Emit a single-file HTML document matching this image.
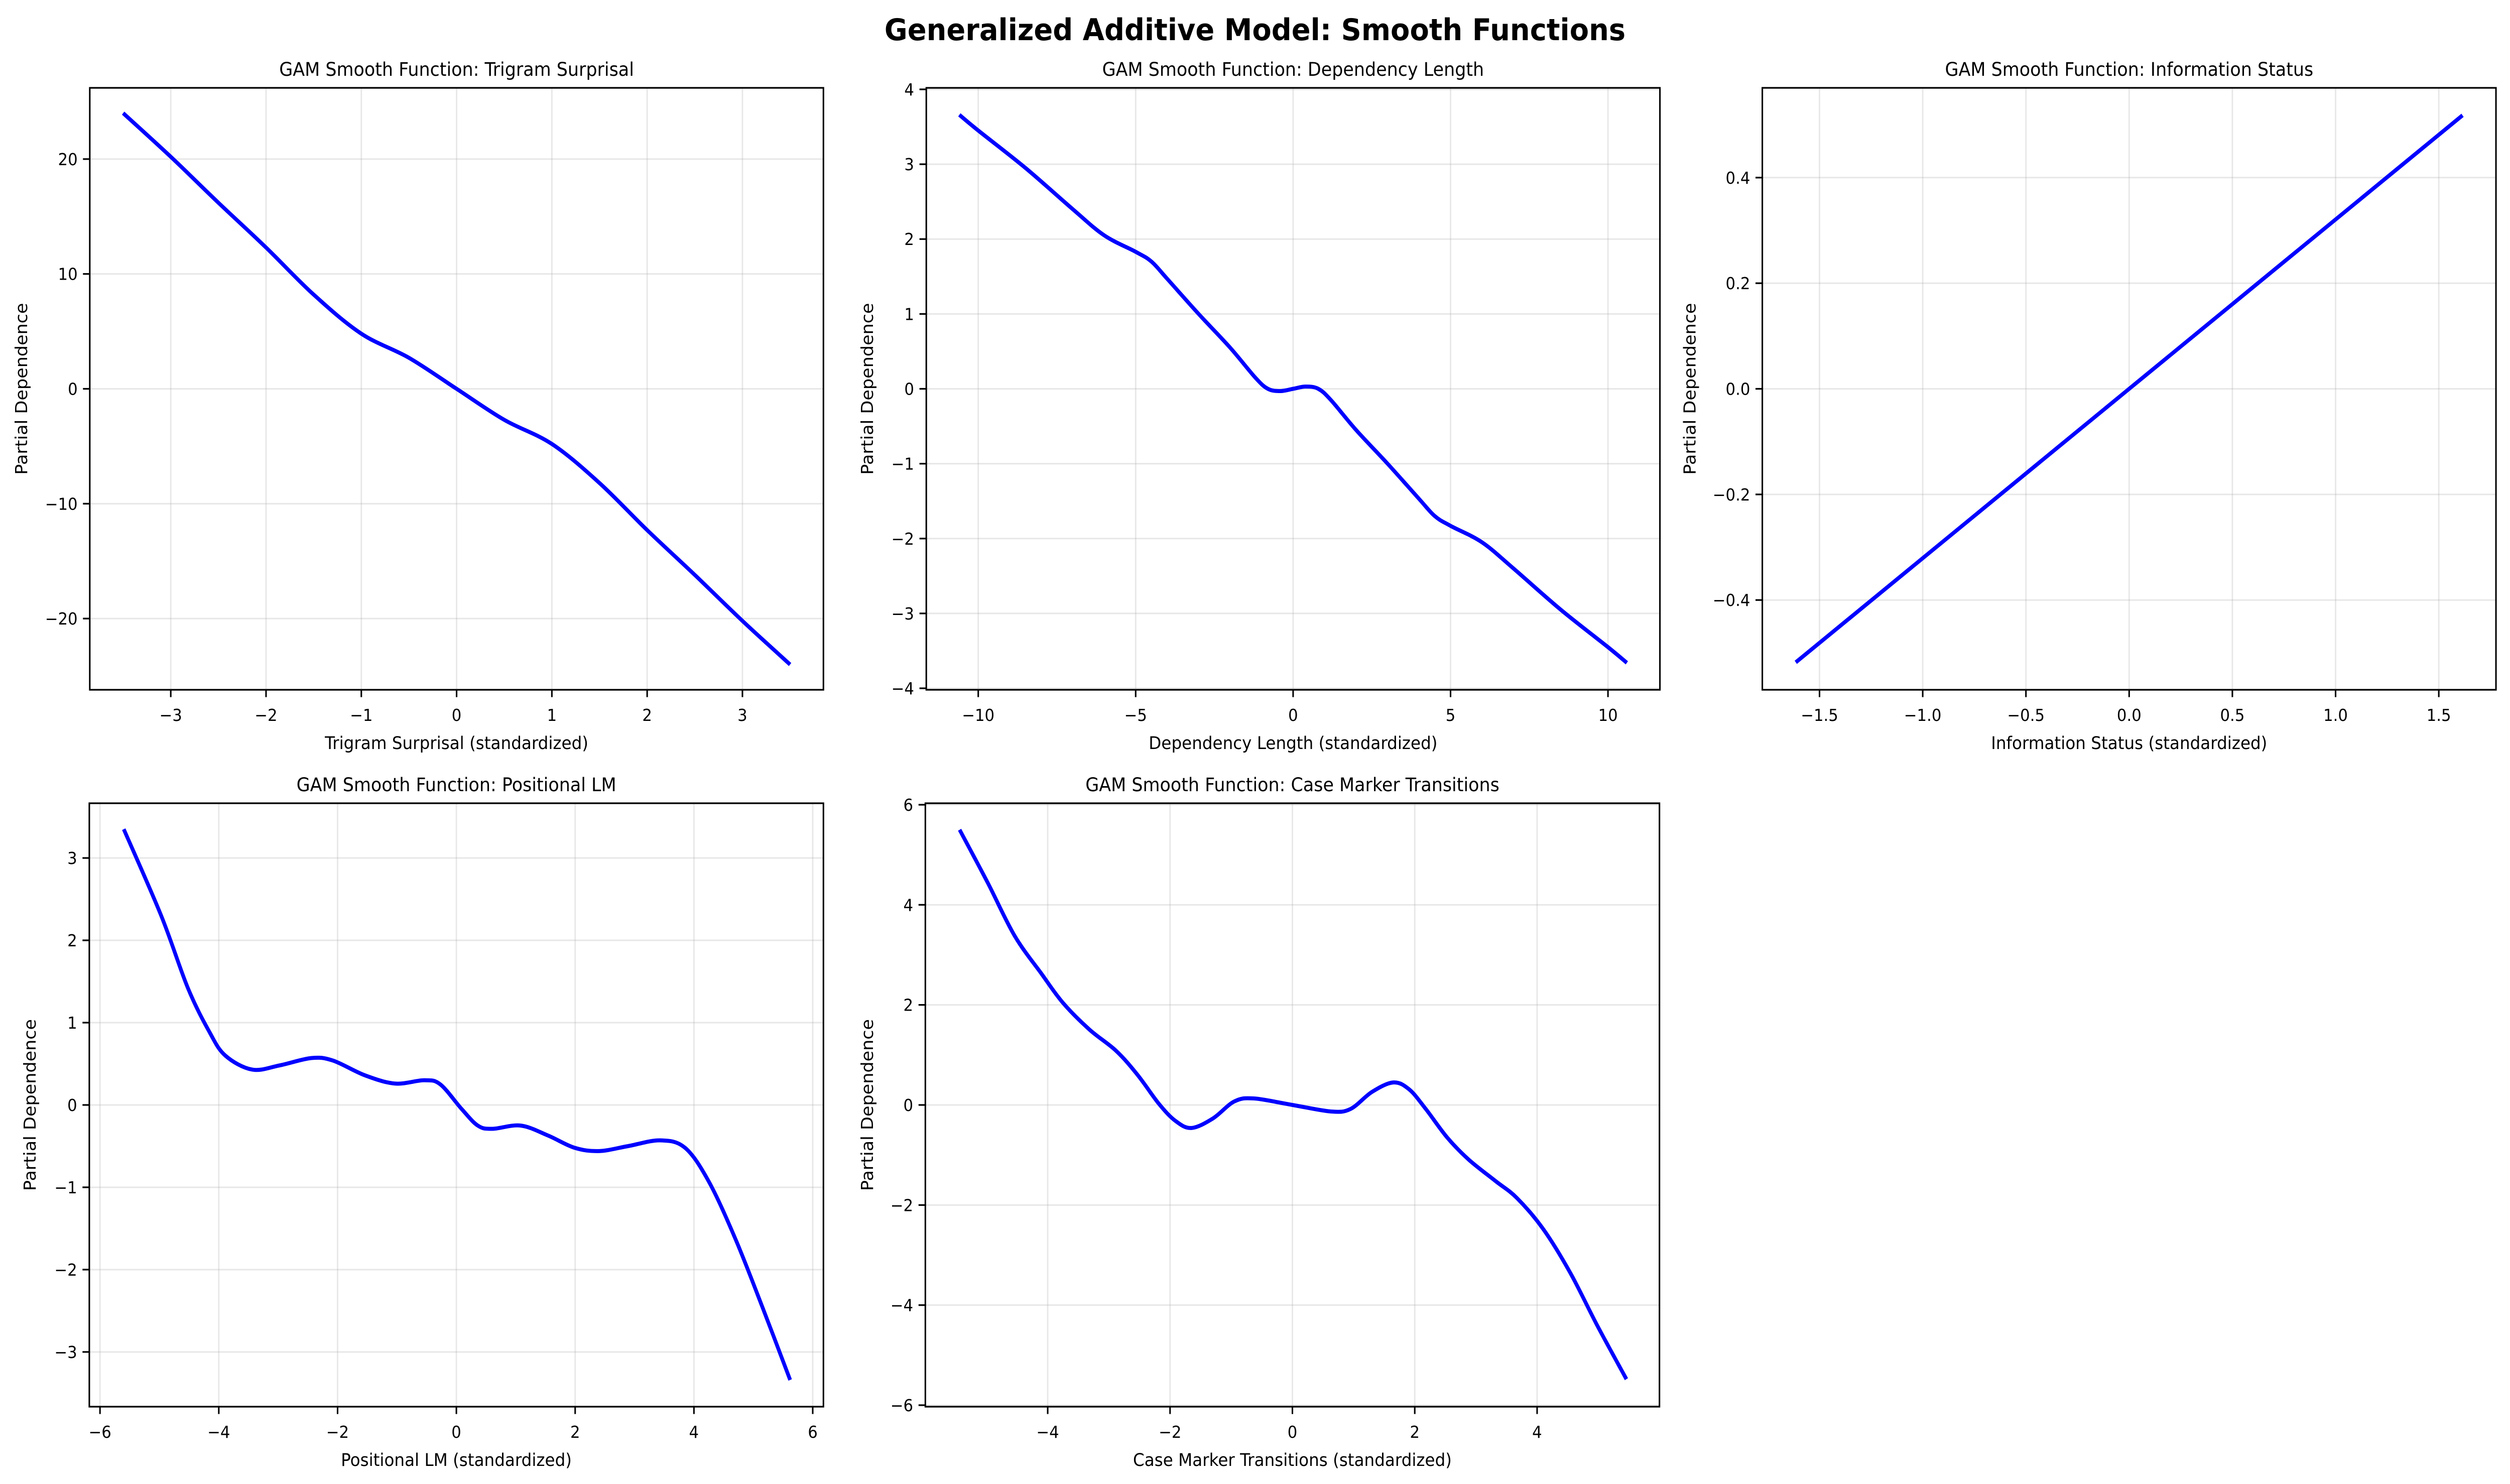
<!DOCTYPE html>
<html><head><meta charset="utf-8"><style>
html,body{margin:0;padding:0;background:#fff;overflow:hidden;width:100%;height:100%;}
svg{display:block;position:absolute;left:0;top:0;width:100vw;height:100vh;font-family:"DejaVu Sans","Liberation Sans",sans-serif;}
</style></head><body>
<svg id="fig" viewBox="0 0 5368 2956" preserveAspectRatio="none" xmlns="http://www.w3.org/2000/svg">
<rect width="5368" height="2956" fill="#fff"/>
<text x="2684" y="80" text-anchor="middle" font-size="60" font-weight="bold">Generalized Additive Model: Smooth Functions</text>
</svg>
<script>
// ---- data ----
const trigramX = [-3.5,-3,-2.5,-2,-1.5,-1,-0.5,0,0.5,1,1.5,2,2.5,3,3.5];
const trigramY = [24,20.2,16.2,12.3,8.2,4.8,2.7,0,-2.7,-4.8,-8.2,-12.3,-16.2,-20.2,-24];
const trigramXTicks = [-3,-2,-1,0,1,2,3];
const trigramYTicks = [-20,-10,0,10,20];

const depX = [-10.6,-10,-8.5,-7,-6,-5,-4.5,-4,-3,-2,-1.2,-0.8,-0.4,0,0.4,0.8,1.2,2,3,4,4.5,5,6,7,8.5,10,10.6];
const depY = [3.66,3.45,2.95,2.4,2.05,1.83,1.7,1.47,1.0,0.55,0.15,0.0,-0.03,0.0,0.03,0.0,-0.15,-0.55,-1.0,-1.47,-1.7,-1.83,-2.05,-2.4,-2.95,-3.45,-3.66];
const depXTicks = [-10,-5,0,5,10];
const depYTicks = [-4,-3,-2,-1,0,1,2,3,4];

const infoX = [-1.615,1.615];
const infoY = [-0.518,0.518];
const infoXTicks = [-1.5,-1.0,-0.5,0.0,0.5,1.0,1.5];
const infoYTicks = [-0.4,-0.2,0.0,0.2,0.4];

const posX = [-5.6,-4.97,-4.52,-4.16,-3.89,-3.44,-2.98,-2.44,-2.08,-1.54,-1.03,-0.54,-0.27,0.09,0.36,0.6,1.08,1.54,1.99,2.4,2.89,3.43,3.85,4.25,4.7,5.15,5.62];
const posY = [3.35,2.3,1.42,0.89,0.6,0.43,0.48,0.57,0.54,0.36,0.26,0.30,0.25,-0.05,-0.25,-0.29,-0.25,-0.37,-0.52,-0.56,-0.5,-0.43,-0.52,-0.93,-1.63,-2.45,-3.34];
const posXTicks = [-6,-4,-2,0,2,4,6];
const posYTicks = [-3,-2,-1,0,1,2,3];

const caseX = [-5.44,-4.98,-4.54,-4.1,-3.75,-3.32,-2.88,-2.53,-2.18,-1.91,-1.65,-1.3,-0.95,-0.63,0,0.63,0.95,1.3,1.65,1.91,2.18,2.53,2.88,3.32,3.67,4.1,4.54,4.98,5.46];
const caseY = [5.5,4.44,3.38,2.62,2.04,1.51,1.08,0.6,0.02,-0.32,-0.46,-0.27,0.07,0.13,0,-0.13,-0.08,0.26,0.45,0.31,-0.08,-0.65,-1.09,-1.52,-1.86,-2.48,-3.35,-4.4,-5.48];
const caseXTicks = [-4,-2,0,2,4];
const caseYTicks = [-6,-4,-2,0,2,4,6];

const NS = "http://www.w3.org/2000/svg";
const svg = document.getElementById('fig');
function mk(tag, attrs, parent){
  const e = document.createElementNS(NS, tag);
  for (const k in attrs) e.setAttribute(k, attrs[k]);
  (parent||svg).appendChild(e);
  return e;
}
function fmt(v, dec){
  let s = v.toFixed(dec);
  if (parseFloat(s) === 0) s = (0).toFixed(dec);
  return s.replace('-', '\u2212');
}
function panel(cfg){
  const g = mk('g', {});
  
  
  const L=cfg.box[0], R=cfg.box[1], T=cfg.box[2], B=cfg.box[3];
  const sx = v => L + (v - cfg.xlim[0]) / (cfg.xlim[1]-cfg.xlim[0]) * (R-L);
  const sy = v => B - (v - cfg.ylim[0]) / (cfg.ylim[1]-cfg.ylim[0]) * (B-T);
  cfg.xt.forEach(v => {
    const l = mk('line', {x1:sx(v), x2:sx(v), y1:T, y2:B, stroke:'#b0b0b0', 'stroke-opacity':0.3, 'stroke-width':3}, g);
    
    
  });
  cfg.yt.forEach(v => {
    const l = mk('line', {x1:L, x2:R, y1:sy(v), y2:sy(v), stroke:'#b0b0b0', 'stroke-opacity':0.3, 'stroke-width':3}, g);
    
    
  });
  const P = cfg.x.map((v,i) => [sx(v), sy(cfg.y[i])]);
  let d = 'M' + P[0][0] + ',' + P[0][1];
  for (let i=0;i<P.length-1;i++){
    const p0 = P[Math.max(0,i-1)], p1=P[i], p2=P[i+1], p3=P[Math.min(P.length-1,i+2)];
    const c1 = [p1[0]+(p2[0]-p0[0])/6, p1[1]+(p2[1]-p0[1])/6];
    const c2 = [p2[0]-(p3[0]-p1[0])/6, p2[1]-(p3[1]-p1[1])/6];
    d += ' C'+c1[0]+','+c1[1]+' '+c2[0]+','+c2[1]+' '+p2[0]+','+p2[1];
  }
  const path = mk('path', {d:d, fill:'none', stroke:'#0000ff', 'stroke-width':8, 'stroke-linejoin':'round'}, g);
  
  
  const fr = mk('rect', {x:L, y:T, width:R-L, height:B-T, fill:'none', stroke:'#000', 'stroke-width':3.3}, g);
  
  
  cfg.xt.forEach(v => {
    mk('line', {x1:sx(v), x2:sx(v), y1:B, y2:B+14.6, stroke:'#000', 'stroke-width':3.3}, g);
    const t = mk('text', {x:sx(v), y:B+62, 'text-anchor':'middle', 'font-size':33}, g);
    t.textContent = fmt(v, cfg.xdec);
    
    
  });
  cfg.yt.forEach(v => {
    mk('line', {x1:L-14.6, x2:L, y1:sy(v), y2:sy(v), stroke:'#000', 'stroke-width':3.3}, g);
    const t = mk('text', {x:L-26, y:sy(v)+12, 'text-anchor':'end', 'font-size':33}, g);
    t.textContent = fmt(v, cfg.ydec);
    
    
  });
  const tt = mk('text', {x:(L+R)/2, y:T-24, 'text-anchor':'middle', 'font-size':37.5}, g);
  tt.textContent = cfg.title;
  
  
  const xl = mk('text', {x:(L+R)/2, y:B+118, 'text-anchor':'middle', 'font-size':35}, g);
  xl.textContent = cfg.xlabel;
  
  
  const cy=(T+B)/2, cx=L-cfg.ylabOff;
  const yl = mk('text', {x:cx, y:cy, 'text-anchor':'middle', 'font-size':35, transform:'rotate(-90 '+cx+' '+cy+')'}, g);
  yl.textContent = 'Partial Dependence';
  
  
}
panel({name:'panel-trigram-surprisal', box:[192,1761,175,1374], xlim:[-3.85,3.85], ylim:[-26.2,26.2], x:trigramX, y:trigramY, xt:trigramXTicks, yt:trigramYTicks, xdec:0, ydec:0, title:'GAM Smooth Function: Trigram Surprisal', xlabel:'Trigram Surprisal (standardized)', ylabOff:134});
panel({name:'panel-dependency-length', box:[1981,3550,175,1374], xlim:[-11.65,11.65], ylim:[-4.02,4.02], x:depX, y:depY, xt:depXTicks, yt:depYTicks, xdec:0, ydec:0, title:'GAM Smooth Function: Dependency Length', xlabel:'Dependency Length (standardized)', ylabOff:114});
panel({name:'panel-information-status', box:[3769,5338,175,1374], xlim:[-1.777,1.777], ylim:[-0.57,0.57], x:infoX, y:infoY, xt:infoXTicks, yt:infoYTicks, xdec:1, ydec:1, title:'GAM Smooth Function: Information Status', xlabel:'Information Status (standardized)', ylabOff:143});
panel({name:'panel-positional-lm', box:[191,1761,1600,2802], xlim:[-6.18,6.18], ylim:[-3.665,3.665], x:posX, y:posY, xt:posXTicks, yt:posYTicks, xdec:0, ydec:0, title:'GAM Smooth Function: Positional LM', xlabel:'Positional LM (standardized)', ylabOff:115});
panel({name:'panel-case-marker-transitions', box:[1979,3549,1600,2802], xlim:[-6.0,6.0], ylim:[-6.03,6.03], x:caseX, y:caseY, xt:caseXTicks, yt:caseYTicks, xdec:0, ydec:0, title:'GAM Smooth Function: Case Marker Transitions', xlabel:'Case Marker Transitions (standardized)', ylabOff:112});
</script>
</body></html>
